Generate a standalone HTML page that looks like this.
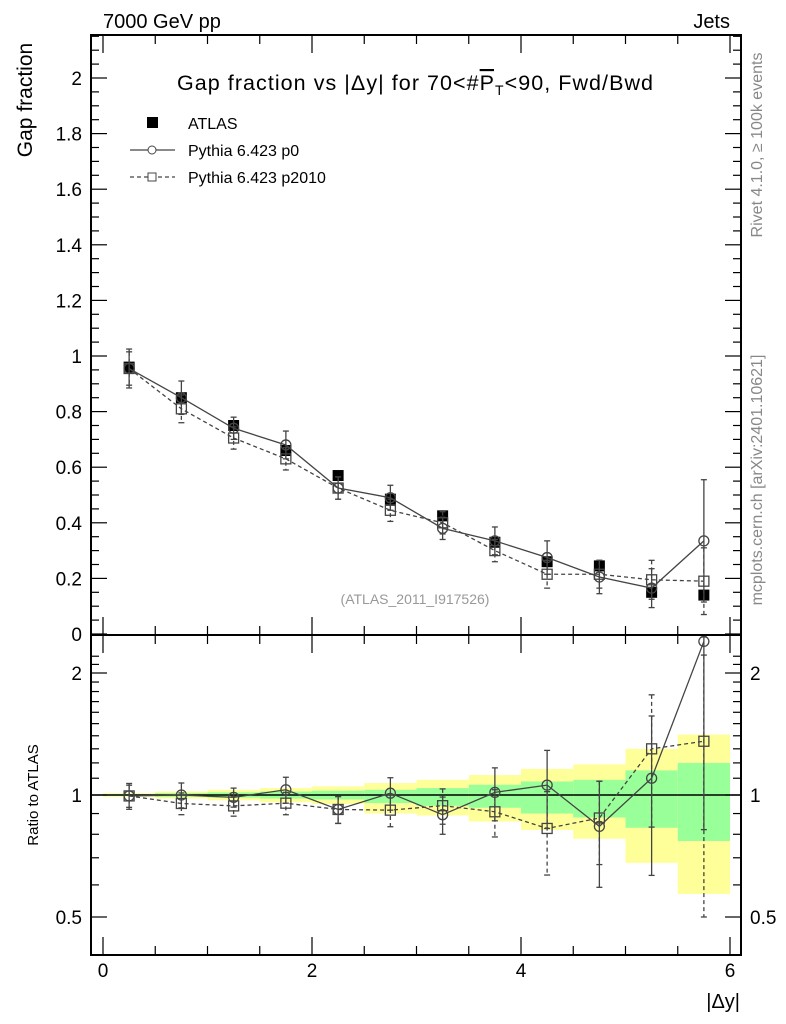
<!DOCTYPE html>
<html><head><meta charset="utf-8"><style>
html,body{margin:0;padding:0;background:#fff;}
svg{display:block;font-family:"Liberation Sans",sans-serif;}
</style></head><body>
<svg id="c" width="786" height="1024" viewBox="0 0 786 1024" xmlns="http://www.w3.org/2000/svg">
<rect x="91" y="35" width="650" height="600" fill="#fff" stroke="none"/>
<g id="bands"></g>
<g id="marks"></g>
<rect x="91" y="35" width="650" height="600" fill="none" stroke="#000" stroke-width="2"/>
<rect x="91" y="635" width="650" height="320" fill="none" stroke="#000" stroke-width="2"/>
<text x="103" y="28" font-size="20">7000 GeV pp</text>
<text x="730" y="28" font-size="20" text-anchor="end">Jets</text>
<text x="415" y="90" font-size="21.5" text-anchor="middle" textLength="476">Gap fraction vs |Δy| for 70&lt;#<tspan text-decoration="overline">P</tspan><tspan font-size="14" dy="5">T</tspan><tspan dy="-5">&lt;90, Fwd/Bwd</tspan></text>
<text transform="translate(32,100) rotate(-90)" font-size="21" text-anchor="middle">Gap fraction</text>
<text transform="translate(38,795) rotate(-90)" font-size="15" text-anchor="middle">Ratio to ATLAS</text>
<text transform="translate(762,145) rotate(-90)" font-size="16" fill="#888" text-anchor="middle">Rivet 4.1.0, ≥ 100k events</text>
<text transform="translate(762,480) rotate(-90)" font-size="16" fill="#888" text-anchor="middle">mcplots.cern.ch [arXiv:2401.10621]</text>
<text x="415" y="604" font-size="14" fill="#999" text-anchor="middle">(ATLAS_2011_I917526)</text>
<text x="740" y="1008" font-size="20" text-anchor="end">|Δy|</text>
<g>
<rect x="147" y="117" width="11" height="11" fill="#000"/>
<text x="188" y="129" font-size="16">ATLAS</text>
<line x1="130" y1="150" x2="175" y2="150" stroke="#444" stroke-width="1.2"/>
<circle cx="152" cy="150" r="4" fill="#fff" stroke="#444"/>
<text x="188" y="156" font-size="16">Pythia 6.423 p0</text>
<line x1="130" y1="177" x2="175" y2="177" stroke="#444" stroke-width="1.2" stroke-dasharray="4,3"/>
<rect x="148" y="173" width="8" height="8" fill="#fff" stroke="#444"/>
<text x="188" y="183" font-size="16">Pythia 6.423 p2010</text>
</g>
<g id="axes"></g>
</svg>
<script>
const binCenters=[0.25,0.75,1.25,1.75,2.25,2.75,3.25,3.75,4.25,4.75,5.25,5.75];
const atlasVals=[0.96,0.85,0.75,0.66,0.57,0.485,0.425,0.33,0.26,0.245,0.15,0.14];
const p0Vals=[0.955,0.85,0.74,0.68,0.525,0.49,0.38,0.335,0.275,0.205,0.165,0.335];
const p0Errs=[0.07,0.06,0.04,0.05,0.04,0.045,0.04,0.05,0.06,0.06,0.07,0.22];
const p2010Vals=[0.955,0.81,0.705,0.63,0.525,0.445,0.40,0.30,0.215,0.215,0.195,0.19];
const p2010Errs=[0.06,0.05,0.04,0.04,0.04,0.04,0.04,0.04,0.05,0.05,0.07,0.12];
const yellowHi=[1.01,1.02,1.03,1.04,1.05,1.07,1.09,1.12,1.16,1.19,1.30,1.41];
const yellowLo=[0.99,0.98,0.97,0.96,0.95,0.90,0.89,0.86,0.82,0.78,0.68,0.57];
const greenHi=[1.005,1.01,1.015,1.02,1.025,1.03,1.04,1.06,1.08,1.09,1.15,1.20];
const greenLo=[0.995,0.99,0.985,0.98,0.975,0.955,0.94,0.93,0.90,0.88,0.83,0.77];
const mainTicks=["0","0.2","0.4","0.6","0.8","1","1.2","1.4","1.6","1.8","2"];
const xTicks=["0","2","4","6"];
const ratioTicks=["0.5","1","2"];

const NS="http://www.w3.org/2000/svg";
const X=v=>103+v*104.5;
const Y=v=>634-v*278;
const R=v=>795-122*Math.log2(v);
function mk(tag,attrs,parent){const e=document.createElementNS(NS,tag);for(const k in attrs)e.setAttribute(k,attrs[k]);parent.appendChild(e);return e;}
const bands=document.getElementById('bands'),marks=document.getElementById('marks'),axes=document.getElementById('axes');
const clip=v=>Math.max(637,Math.min(953,v));

binCenters.forEach((c,i)=>{
  let e=mk('rect',{x:X(c-0.25),y:R(yellowHi[i]),width:X(0.5)-X(0),height:R(yellowLo[i])-R(yellowHi[i]),fill:'#ffff99'},bands);
  
  
  e=mk('rect',{x:X(c-0.25),y:R(greenHi[i]),width:X(0.5)-X(0),height:R(greenLo[i])-R(greenHi[i]),fill:'#99ff99'},bands);
  
  
});
let one=mk('line',{x1:91,x2:741,y1:R(1),y2:R(1),stroke:'#000','stroke-width':1.5},bands);



function series(vals,errs,dash,shape,name){
  const col='#444';
  const pts=binCenters.map((c,i)=>X(c)+','+Y(vals[i])).join(' ');
  let l=mk('polyline',{points:pts,fill:'none',stroke:col,'stroke-width':1.3,'stroke-dasharray':dash},marks);
  
  
  const rpts=binCenters.map((c,i)=>X(c)+','+clip(R(vals[i]/atlasVals[i]))).join(' ');
  l=mk('polyline',{points:rpts,fill:'none',stroke:col,'stroke-width':1.3,'stroke-dasharray':dash},marks);
  
  
  binCenters.forEach((c,i)=>{
    const x=X(c);
    const lo=vals[i]-errs[i],hi=vals[i]+errs[i];
    const segs=[[Y(hi),Y(lo)],[clip(R(hi/atlasVals[i])),clip(R(Math.max(lo,0.01)/atlasVals[i]))]];
    segs.forEach(s=>{
      let e=mk('line',{x1:x,x2:x,y1:s[0],y2:s[1],stroke:col,'stroke-width':1.3,'stroke-dasharray':dash},marks);
      
      
      mk('line',{x1:x-3,x2:x+3,y1:s[0],y2:s[0],stroke:col,'stroke-width':1.3},marks);
      mk('line',{x1:x-3,x2:x+3,y1:s[1],y2:s[1],stroke:col,'stroke-width':1.3},marks);
    });
    [Y(vals[i]),clip(R(vals[i]/atlasVals[i]))].forEach(y=>{
      let m;
      if(shape==='c') m=mk('circle',{cx:x,cy:y,r:5,fill:'none',stroke:col,'stroke-width':1.3},marks);
      else m=mk('rect',{x:x-5,y:y-5,width:10,height:10,fill:'none',stroke:col,'stroke-width':1.3},marks);
      
      
    });
  });
}
binCenters.forEach((c,i)=>{
  const m=mk('rect',{x:X(c)-5.5,y:Y(atlasVals[i])-5.5,width:11,height:11,fill:'#000'},marks);
  
  
});
series(p2010Vals,p2010Errs,'4,3','s','p2010');
series(p0Vals,p0Errs,'none','c','p0');

function tk(x1,y1,x2,y2){mk('line',{x1,y1,x2,y2,stroke:'#000','stroke-width':1.2},axes);}
for(let v=0;v<=2.16;v+=0.05){const y=Y(v);if(y<36)break;const major=Math.abs(v*5-Math.round(v*5))<1e-6;const L=major?16:8;tk(91,y,91+L,y);tk(741,y,741-L,y);}
mainTicks.forEach(t=>{const e=mk('text',{x:82,y:Y(+t)+7,'font-size':19,'text-anchor':'end'},axes);e.textContent=t;
  
  });
for(let v=0;v<=6.01;v+=0.5){const x=X(v);const major=Math.abs(v%2)<1e-6;const L=major?18:9;tk(x,35,x,35+L);tk(x,635,x,635-L);tk(x,635,x,635+L);tk(x,955,x,955-L);}
xTicks.forEach(t=>{const e=mk('text',{x:X(+t),y:977,'font-size':19,'text-anchor':'middle'},axes);e.textContent=t;
  
  });
[0.5,0.6,0.7,0.8,0.9,1,1.1,1.2,1.3,1.4,1.5,1.6,1.7,1.8,1.9,2,2.1,2.2].forEach(v=>{const y=R(v);if(y<637||y>953)return;const major=(v===0.5||v===1||v===2);const L=major?16:8;tk(91,y,91+L,y);tk(741,y,741-L,y);});
ratioTicks.forEach(t=>{let e=mk('text',{x:82,y:R(+t)+7,'font-size':19,'text-anchor':'end'},axes);e.textContent=t;
  
  
  e=mk('text',{x:750,y:R(+t)+7,'font-size':19},axes);e.textContent=t;
  
  });
</script>
</body></html>
